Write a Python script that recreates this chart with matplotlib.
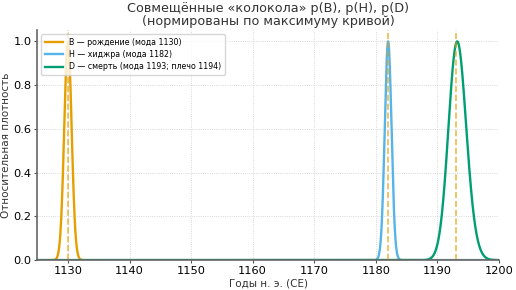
import numpy as np
import matplotlib
matplotlib.use('Agg')
import matplotlib.pyplot as plt

# curve parameters (mode and spread, years CE)
labels = ['B — рождение (мода 1130)',
          'H — хиджра (мода 1182)',
          'D — смерть (мода 1193; плечо 1194)']
colors = ['#E69F00', '#56B4E9', '#009E73']
modes = [1130, 1182, 1193]
# each curve is a sum of normal components: centers, widths, weights
centers = [[1130.0], [1182.0], [1193.0, 1194.0]]
sigmas = [[0.6], [0.55], [1.35, 1.5]]
weights = [[1.0], [1.0], [0.7, 0.3]]

x = np.linspace(1125, 1200, 3000)


def curve(cs, ss, ws):
  y = np.zeros_like(x)
  for c, s, w in zip(cs, ss, ws):
    y += w * np.exp(-0.5 * ((x - c) / s) ** 2) / s
  return y / y.max()


fig, ax = plt.subplots(figsize=(5.16, 2.9), dpi=100)
for lab, col, cs, ss, ws in zip(labels, colors, centers, sigmas, weights):
  ax.plot(x, curve(cs, ss, ws), color=col, lw=1.7, label=lab)
for m in modes:
  ax.axvline(m, color='#E69F00', ls='--', lw=1.2, alpha=0.7)

ax.set_xlim(1125, 1200)
ax.set_ylim(0, 1.05)
ax.set_xticks(np.arange(1130, 1201, 10))
ax.set_yticks(np.arange(0, 1.01, 0.2))
ax.tick_params(labelsize=8.2, length=2, color='#555555', pad=2)
ax.grid(True, ls=':', lw=0.6, color='#cccccc')
for s in ['top', 'right']:
  ax.spines[s].set_visible(False)
for s in ['left', 'bottom']:
  ax.spines[s].set_color('#666666')
  ax.spines[s].set_linewidth(1.2)
ax.set_title('Совмещённые «колокола» p(B), p(H), p(D)\n(нормированы по максимуму кривой)',
             fontsize=9.2, color='#333333', pad=4, linespacing=1.0)
ax.set_xlabel('Годы н. э. (CE)', fontsize=7.5, color='#333333', labelpad=2)
ax.set_ylabel('Относительная плотность', fontsize=7.5, color='#333333', labelpad=2)
ax.legend(loc='upper left', fontsize=5.7, frameon=True, handlelength=2.3,
          borderpad=0.45, labelspacing=0.4)

fig.subplots_adjust(left=0.072, right=0.967, top=0.895, bottom=0.103)
fig.savefig('out.png', dpi=100)
